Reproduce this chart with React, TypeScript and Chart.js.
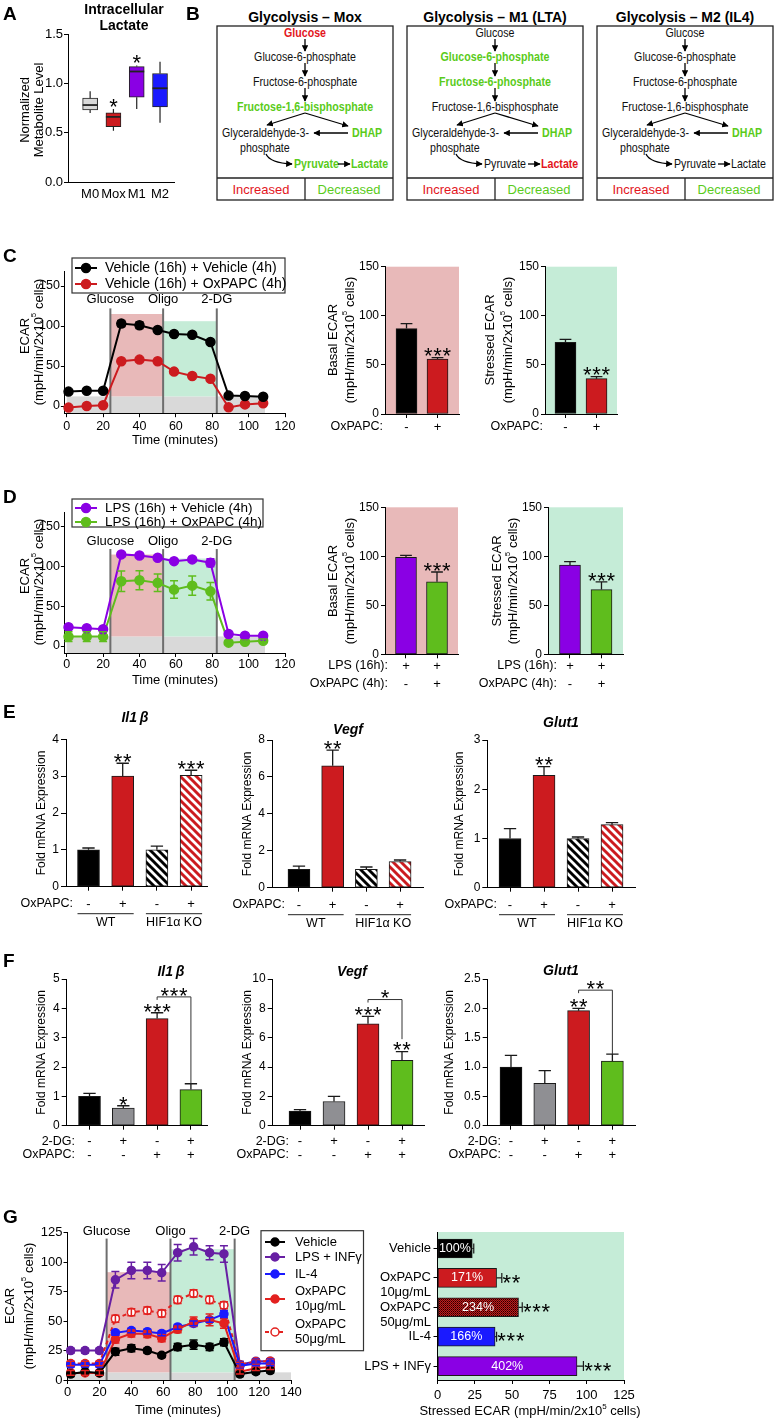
import React, { useEffect, useRef } from 'react';
import { Chart, registerables } from 'chart.js';

Chart.register(...registerables);

const SANS = '"Liberation Sans", Arial, Helvetica, sans-serif';

// ---------- colours ----------
const BLACK = '#000000';
const RED = '#cc1b1f';
const PURPLE = '#8a00e4';
const GREEN = '#5fbd1d';
const GRAY = '#8f8f93';
const LIGHTGRAY = '#d9d9d9';
const BLUE = '#1a1aff';
const PINK_BG = '#e8b9b9';
const MINT_BG = '#c5ecd7';
const SHADE = '#d9d9d9';
const LINE_RED = '#e3211f';
const DARK_PURPLE = '#671fa3';
const TXT_RED = '#e3161d';
const TXT_GREEN = '#5acb1a';

// ---------- Panel A : intracellular lactate ----------
const aGroups = ['M0', 'Mox', 'M1', 'M2'];
const aLow = [0.7, 0.52, 0.74, 0.6];
const aQ1 = [0.73, 0.56, 0.86, 0.76];
const aMedian = [0.78, 0.66, 1.12, 0.95];
const aQ3 = [0.85, 0.7, 1.17, 1.1];
const aHigh = [0.92, 0.74, 1.18, 1.22];
const aStars = [0, 1, 1, 0];
const aColors = [LIGHTGRAY, RED, PURPLE, BLUE];

// ---------- Panel B : glycolysis diagrams ----------
const bTitles = ['Glycolysis \u2013 Mox', 'Glycolysis \u2013 M1 (LTA)', 'Glycolysis \u2013 M2 (IL4)'];
const bMetabolites = ['Glucose', 'Glucose-6-phosphate', 'Fructose-6-phosphate', 'Fructose-1,6-bisphosphate', 'Glyceraldehyde-3-', 'DHAP', 'phosphate', 'Pyruvate', 'Lactate'];
// 1 = increased, -1 = decreased, 0 = unchanged
const bMox = [1, 0, 0, -1, 0, -1, 0, -1, -1];
const bM1 = [0, -1, -1, 0, 0, -1, 0, 0, 1];
const bM2 = [0, 0, 0, 0, 0, -1, 0, 0, 0];

// ---------- Panels C / D : Seahorse traces ----------
const timeCD = [1, 11, 20, 30, 40, 50, 59, 69, 79, 89, 98, 108];
const injectionNames = ['Glucose', 'Oligo', '2-DG'];
const injectionCD = [24, 53, 82.5];
const cVehVeh = [18, 19, 19, 103, 101, 95, 90, 89, 80, 13, 12.5, 11.5];
const cVehVehErr = [0, 0, 0, 4, 4, 0, 0, 0, 0, 0, 0, 0];
const cVehOx = [-2, 0, 1, 56, 58, 56, 43, 37.5, 34, -1.7, 2, 3.4];
const cVehOxErr = [0, 0, 0, 0, 0, 0, 0, 0, 0, 0, 0, 0];
const cShadeTop = [12, 115, 106];
const dLpsVeh = [23.7, 22.4, 21.1, 115.2, 113.9, 111, 106.7, 108.9, 104.7, 15.2, 13, 13];
const dLpsVehErr = [0, 0, 0, 2, 2, 2, 2, 2, 5, 0, 0, 0];
const dLpsOx = [11.8, 11.8, 11.8, 81.4, 82.7, 79.4, 70.9, 75.9, 68.7, 4.2, 5.4, 6.7];
const dLpsOxErr = [6, 6, 6, 13, 12, 11, 11, 12, 11, 2, 2, 2];
const dShadeTop = [12, 115, 110];

const oxLabels = ['-', '+'];
const cBasal = [87, 56];
const cBasalErr = [5, 1.5];
const cStressed = [73, 36];
const cStressedErr = [3, 2];
const cdStars = [0, 3];
const dLabels = [['+', '-'], ['+', '+']];
const dBasal = [99, 74];
const dBasalErr = [2, 10];
const dStressed = [91, 66];
const dStressedErr = [3.5, 8];

// ---------- Panel E ----------
const eLabels = ['-', '+', '-', '+'];
const eGenotypes = ['WT', 'HIF1\u03b1 KO'];
const eIl1b = [1.0, 3.0, 1.0, 3.02];
const eIl1bErr = [0.05, 0.35, 0.1, 0.14];
const eIl1bStars = [0, 2, 0, 3];
const eVegf = [1.0, 6.6, 1.0, 1.42];
const eVegfErr = [0.17, 0.85, 0.12, 0.08];
const eVegfStars = [0, 2, 0, 0];
const eGlut1 = [1.0, 2.28, 1.0, 1.28];
const eGlut1Err = [0.2, 0.18, 0.03, 0.04];
const eGlut1Stars = [0, 2, 0, 0];

// ---------- Panel F ----------
const fLabels = [['-', '-'], ['+', '-'], ['-', '+'], ['+', '+']];
const fIl1b = [1.0, 0.6, 3.65, 1.23];
const fIl1bErr = [0.1, 0.08, 0.2, 0.2];
const fIl1bStars = [0, 1, 3, 0];
const fVegf = [1.0, 1.65, 6.95, 4.45];
const fVegfErr = [0.1, 0.35, 0.5, 0.6];
const fVegfStars = [0, 0, 3, 2];
const fGlut1 = [1.0, 0.72, 1.96, 1.1];
const fGlut1Err = [0.2, 0.22, 0.04, 0.12];
const fGlut1Stars = [0, 0, 2, 0];

// ---------- Panel G ----------
const timeG = [2, 11, 20, 30, 40, 50, 59, 69, 79, 89, 98, 108, 118, 127];
const injectionG = [24.5, 64.5, 104.7];
const gShadeTop = [6.5, 91.5, 111];
const gVehicle = [5, 7, 6, 24, 27, 25, 21, 28, 30, 28, 32, 5, 7, 8];
const gVehicleErr = [2, 2, 2, 3, 3, 2, 2, 3, 4, 3, 3, 2, 2, 2];
const gLps = [25, 25, 25, 85, 93, 93, 91, 108, 113, 108, 107, 13, 16, 16];
const gLpsErr = [2, 2, 2, 7, 7, 7, 7, 7, 7, 6, 7, 3, 2, 2];
const gIl4 = [13, 13, 13, 40, 42, 41, 39.5, 45, 48, 51, 56, 12, 14, 14];
const gIl4Err = [2, 2, 2, 2, 2, 2, 2, 2, 2, 2, 3, 2, 2, 2];
const gOx10 = [6, 6, 6, 34.5, 39.5, 39, 35.5, 43, 49.5, 51, 48, 7, 10, 11];
const gOx10Err = [2, 2, 2, 3, 3, 3, 3, 3, 4, 5, 4, 2, 2, 2];
const gOx50 = [14, 14, 14, 52, 57.5, 59, 56.5, 68, 73.5, 68, 63.5, 13, 15.5, 16];
const gOx50Err = [2, 2, 2, 3, 3, 3, 3, 3, 3, 3, 3, 2, 2, 2];
const gConditions = ['Vehicle', 'OxPAPC', 'OxPAPC', 'IL-4', 'LPS + INF\u03b3'];
const gDoses = ['', '10\u03bcg/mL', '50\u03bcg/mL', '', ''];
const gStressed = [23.3, 39.6, 54.3, 38.6, 93.5];
const gStressedErr = [1, 3.5, 2.5, 1, 4.3];
const gPercent = ['100%', '171%', '234%', '166%', '402%'];
const gStars = [0, 2, 3, 3, 3];

// ---------- layout ----------
type Box = { x: number; y: number; w: number; h: number };
type Area = { l: number; t: number; r: number; b: number };
type Draw = { ctx: CanvasRenderingContext2D; X: (v: number) => number; Y: (v: number) => number; area: Area };
type Spec = { key: string; area: Area; type: string; indexAxis?: string; datasets: any[]; x: any; y: any; bg?: (d: Draw) => void; over?: (d: Draw) => void; top?: (d: Draw) => void };

const BOX: Record<string, Box> = {
  A: { x: 0, y: 0, w: 205, h: 215 },
  CL: { x: 0, y: 245, w: 300, h: 205 },
  CB1: { x: 300, y: 255, w: 165, h: 185 },
  CB2: { x: 465, y: 255, w: 165, h: 185 },
  DL: { x: 0, y: 495, w: 300, h: 195 },
  DB1: { x: 300, y: 495, w: 165, h: 200 },
  DB2: { x: 465, y: 495, w: 165, h: 200 },
  E1: { x: 0, y: 700, w: 215, h: 235 },
  E2: { x: 215, y: 700, w: 215, h: 235 },
  E3: { x: 430, y: 700, w: 215, h: 235 },
  F1: { x: 0, y: 950, w: 215, h: 215 },
  F2: { x: 215, y: 950, w: 215, h: 215 },
  F3: { x: 430, y: 950, w: 215, h: 215 },
  GL: { x: 0, y: 1215, w: 380, h: 206 },
  GB: { x: 355, y: 1215, w: 419, h: 206 },
};

const LETTERS: [string, number, number][] = [['A', 3, 14], ['B', 186, 14], ['C', 3, 256], ['D', 3, 497], ['E', 3, 712], ['F', 3, 961], ['G', 3, 1217]];

// ---------- drawing helpers ----------
function txt(ctx: CanvasRenderingContext2D, s: string, x: number, y: number, o: any = {}) {
  ctx.save();
  ctx.font = `${o.italic ? 'italic ' : ''}${o.bold ? 'bold ' : ''}${o.size ?? 12}px ${o.fam ?? SANS}`;
  ctx.fillStyle = o.color ?? '#000';
  ctx.textAlign = o.align ?? 'center';
  ctx.textBaseline = 'middle';
  ctx.translate(x, y);
  if (o.rot) ctx.rotate(-Math.PI / 2);
  ctx.fillText(s, 0, 0);
  ctx.restore();
}

const UNITS: [string, boolean][] = [['(mpH/min/2x10', false], ['5', true], [' cells)', false]];
const GLABEL: [string, boolean][] = [['Stressed ECAR (mpH/min/2x10', false], ['5', true], [' cells)', false]];

function rich(ctx: CanvasRenderingContext2D, segs: [string, boolean][], x: number, y: number, o: any = {}) {
  const size = o.size ?? 12;
  ctx.save();
  const fN = `${size}px ${SANS}`;
  const fS = `${Math.round(size * 0.65)}px ${SANS}`;
  let total = 0;
  segs.forEach(([s, sup]) => { ctx.font = sup ? fS : fN; total += ctx.measureText(s).width; });
  ctx.translate(x, y);
  if (o.rot) ctx.rotate(-Math.PI / 2);
  let cx = -total / 2;
  ctx.fillStyle = '#000';
  ctx.textAlign = 'left';
  ctx.textBaseline = 'middle';
  segs.forEach(([s, sup]) => { ctx.font = sup ? fS : fN; ctx.fillText(s, cx, sup ? -size * 0.38 : 0); cx += ctx.measureText(s).width; });
  ctx.restore();
}

function drawStars(ctx: CanvasRenderingContext2D, n: number, cx: number, cy: number, size = 22, gap = 9.3) {
  ctx.save();
  ctx.fillStyle = '#000';
  ctx.font = `${size}px ${SANS}`;
  ctx.textAlign = 'center';
  ctx.textBaseline = 'alphabetic';
  for (let i = 0; i < n; i++) ctx.fillText('*', cx + (i - (n - 1) / 2) * gap, cy + size * 0.58);
  ctx.restore();
}

function errBoth(d: Draw, xs: number[], vals: number[], errs: number[], color: string, cap: number) {
  const { ctx } = d;
  ctx.save();
  ctx.strokeStyle = color;
  ctx.lineWidth = 1.5;
  vals.forEach((v, i) => {
    const e = errs[i];
    if (!e) return;
    const x = d.X(xs[i]);
    const y0 = d.Y(v - e);
    const y1 = d.Y(v + e);
    ctx.beginPath();
    ctx.moveTo(x, y0); ctx.lineTo(x, y1);
    ctx.moveTo(x - cap, y0); ctx.lineTo(x + cap, y0);
    ctx.moveTo(x - cap, y1); ctx.lineTo(x + cap, y1);
    ctx.stroke();
  });
  ctx.restore();
}

function legendBox(ctx: CanvasRenderingContext2D, o: any) {
  ctx.save();
  ctx.fillStyle = '#fff';
  ctx.fillRect(o.x, o.y, o.w, o.h);
  ctx.strokeStyle = '#333';
  ctx.lineWidth = 1.2;
  ctx.strokeRect(o.x, o.y, o.w, o.h);
  o.rows.forEach((r: any) => {
    ctx.strokeStyle = r.color;
    ctx.lineWidth = 2;
    ctx.setLineDash(r.dash ?? []);
    ctx.beginPath(); ctx.moveTo(o.x0, r.y); ctx.lineTo(o.x1, r.y); ctx.stroke();
    ctx.setLineDash([]);
    ctx.beginPath(); ctx.arc((o.x0 + o.x1) / 2, r.y, o.r, 0, Math.PI * 2);
    ctx.fillStyle = r.fill ?? r.color; ctx.fill(); ctx.lineWidth = 1.5; ctx.stroke();
    const n = r.lines.length;
    r.lines.forEach((s: string, i: number) => txt(ctx, s, o.tx, r.y + (i - (n - 1) / 2) * o.lh, { size: o.size, align: 'left' }));
  });
  ctx.restore();
}

function stripes(color: string) {
  const p = 8;
  const c = document.createElement('canvas');
  c.width = p; c.height = p;
  const g = c.getContext('2d')!;
  g.fillStyle = '#fff'; g.fillRect(0, 0, p, p);
  g.strokeStyle = color; g.lineWidth = 2.9;
  g.beginPath();
  for (let k = -1; k <= 1; k++) { g.moveTo(k * p - 1, -1); g.lineTo(k * p + p + 1, p + 1); }
  g.stroke();
  return g.createPattern(c, 'repeat');
}

function checker() {
  const c = document.createElement('canvas');
  c.width = 2; c.height = 2;
  const g = c.getContext('2d')!;
  g.fillStyle = '#c41c1c'; g.fillRect(0, 0, 2, 2);
  g.fillStyle = '#200000'; g.fillRect(0, 0, 1, 1);
  g.fillStyle = '#5a0a0a'; g.fillRect(1, 1, 1, 1);
  return g.createPattern(c, 'repeat');
}

// ---------- scale options ----------
function axisOpts(o: any, pos: string, thick: number) {
  const tl = o.tickLen ?? 4;
  return {
    type: 'linear', position: pos, min: o.min, max: o.max, reverse: !!o.reverse, bounds: 'data', offset: false,
    afterBuildTicks: (s: any) => { s.ticks = o.ticks.map((value: number) => ({ value })); },
    afterFit: (s: any) => {
      if (pos === 'bottom') s.height = thick; else s.width = thick;
      s.paddingLeft = 0; s.paddingRight = 0; s.paddingTop = 0; s.paddingBottom = 0;
    },
    grid: { display: true, drawOnChartArea: false, drawTicks: tl > 0, tickLength: tl, tickWidth: 1, tickColor: '#000', color: '#000', offset: false, lineWidth: 1 },
    border: { display: o.border !== false, color: '#000', width: 1 },
    ticks: {
      display: !o.hideLabels, autoSkip: false, maxRotation: 0, minRotation: 0, padding: o.pad ?? 2, color: '#000',
      font: { family: o.fam ?? SANS, size: o.size ?? 12, lineHeight: o.lh ?? 1.2 },
      callback: (v: any) => (o.fmt ? o.fmt(v) : String(v)),
    },
  };
}

function build(canvas: HTMLCanvasElement, spec: Spec) {
  const box = BOX[spec.key];
  const a = spec.area;
  const yThick = a.l - box.x;
  const xThick = box.y + box.h - a.b;
  const hook = (fn?: (d: Draw) => void) => (c: any) => {
    if (!fn) return;
    const ctx = c.ctx as CanvasRenderingContext2D;
    ctx.save();
    ctx.translate(-box.x, -box.y);
    fn({
      ctx,
      X: (v: number) => c.scales.x.getPixelForValue(v) + box.x,
      Y: (v: number) => c.scales.y.getPixelForValue(v) + box.y,
      area: { l: c.chartArea.left + box.x, t: c.chartArea.top + box.y, r: c.chartArea.right + box.x, b: c.chartArea.bottom + box.y },
    });
    ctx.restore();
  };
  return new Chart(canvas, {
    type: spec.type,
    data: { datasets: spec.datasets },
    options: {
      responsive: false, animation: false, devicePixelRatio: 1, events: [],
      indexAxis: spec.indexAxis ?? 'x',
      layout: { padding: { left: 0, top: a.t - box.y, right: box.x + box.w - a.r, bottom: 0 } },
      plugins: { legend: { display: false }, tooltip: { enabled: false }, title: { display: false } },
      scales: { x: axisOpts(spec.x, 'bottom', xThick), y: axisOpts(spec.y, 'left', yThick) },
    },
    plugins: [{ id: 'deco' + spec.key, beforeDraw: hook(spec.bg), afterDatasetsDraw: hook(spec.over), afterDraw: hook(spec.top) }],
  } as any);
}

// ---------- spec builders ----------
function seahorse(o: any): Spec {
  return {
    key: o.key, area: o.area, type: 'line',
    datasets: o.series.map((s: any) => ({
      data: o.time.map((t: number, i: number) => ({ x: t, y: s.values[i] })),
      borderColor: s.color, backgroundColor: s.color, borderWidth: 2, borderDash: s.dash ?? [],
      pointRadius: o.r, pointBackgroundColor: s.fill ?? s.color, pointBorderColor: s.color, pointBorderWidth: 1.5,
      tension: 0, clip: false,
    })),
    x: { min: o.xmin, max: o.xmax, ticks: o.xticks, size: o.tsize, pad: o.xpad },
    y: { min: o.ymin, max: o.ymax, ticks: o.yticks, size: o.tsize, pad: 1 },
    bg: (d) => {
      const { ctx } = d;
      const [base, basal, stressed] = o.shade;
      const [g, ol, dg] = o.inject;
      ctx.fillStyle = SHADE;
      ctx.fillRect(d.X(0), d.Y(base), d.X(o.shadeEnd) - d.X(0), d.area.b - d.Y(base));
      ctx.fillStyle = PINK_BG;
      ctx.fillRect(d.X(g), d.Y(basal), d.X(ol) - d.X(g), d.Y(base) - d.Y(basal));
      ctx.fillStyle = MINT_BG;
      ctx.fillRect(d.X(ol), d.Y(stressed), d.X(dg) - d.X(ol), d.Y(base) - d.Y(stressed));
      ctx.strokeStyle = '#6e6e6e';
      ctx.lineWidth = 2;
      o.inject.forEach((t: number) => { ctx.beginPath(); ctx.moveTo(d.X(t), d.area.b); ctx.lineTo(d.X(t), d.Y(o.lineTop)); ctx.stroke(); });
    },
    over: (d) => { o.series.forEach((s: any) => errBoth(d, o.time, s.values, s.errs, s.color, o.cap)); },
    top: (d) => {
      injectionNames.forEach((n, i) => txt(d.ctx, n, d.X(o.inject[i]), d.Y(o.labelAt), { size: o.lsize }));
      o.extra(d);
    },
  };
}

function bars(o: any): Spec {
  return {
    key: o.key, area: o.area, type: 'bar',
    datasets: [{ data: o.values.map((v: number, i: number) => ({ x: i, y: v })), backgroundColor: o.colors, borderColor: '#1a1a1a', borderWidth: 1, borderSkipped: false, barThickness: o.thick }],
    x: { min: o.xmin, max: o.xmax, ticks: o.values.map((_: number, i: number) => i), fmt: (v: number) => o.labels[v], size: o.xsize ?? 13, pad: o.xpad ?? 2, lh: o.xlh ?? 1.2 },
    y: { min: 0, max: o.ymax, ticks: o.yticks, fmt: o.yfmt, size: o.ysize ?? 12, pad: o.ypad ?? 2, tickLen: o.ytick ?? 4 },
    bg: o.bg ? (d) => { d.ctx.fillStyle = o.bg; d.ctx.fillRect(d.area.l, d.area.t, d.area.r - d.area.l, d.area.b - d.area.t); } : undefined,
    over: (d) => {
      const { ctx } = d;
      ctx.save();
      ctx.strokeStyle = '#1a1a1a';
      ctx.lineWidth = 1.3;
      const cap = o.thick * 0.28;
      o.values.forEach((v: number, i: number) => {
        const e = o.errs[i];
        if (!e) return;
        const x = d.X(i);
        const y1 = d.Y(v + e);
        ctx.beginPath(); ctx.moveTo(x, d.Y(v)); ctx.lineTo(x, y1); ctx.moveTo(x - cap, y1); ctx.lineTo(x + cap, y1); ctx.stroke();
      });
      ctx.restore();
      o.values.forEach((v: number, i: number) => { if (o.stars[i]) drawStars(ctx, o.stars[i], d.X(i), d.Y(v + o.errs[i]) - 7); });
      (o.brackets ?? []).forEach((br: any) => {
        const xa = d.X(br.a), xb = d.X(br.b), yb = d.Y(br.at);
        ctx.save();
        ctx.strokeStyle = '#333';
        ctx.lineWidth = 1;
        ctx.beginPath(); ctx.moveTo(xa, yb + 3); ctx.lineTo(xa, yb); ctx.lineTo(xb, yb);
        ctx.lineTo(xb, d.Y(br.drop ?? o.values[br.b] + o.errs[br.b]));
        ctx.stroke();
        ctx.restore();
        drawStars(ctx, br.stars, (xa + xb) / 2, yb - 7);
      });
    },
    top: o.top,
  };
}

function yTitles(ctx: CanvasRenderingContext2D, title: string, x1: number, x2: number, yc: number, size = 13) {
  txt(ctx, title, x1, yc, { size, rot: true });
  rich(ctx, UNITS, x2, yc, { size, rot: true });
}

function eDecor(titleText: string, tx: number, ty: number, yx: number, labelRight: number) {
  return (d: Draw) => {
    const { ctx } = d;
    txt(ctx, titleText, tx, ty, { size: 14, bold: true, italic: true });
    txt(ctx, 'Fold mRNA Expression', yx, (d.area.t + d.area.b) / 2, { size: 12, rot: true });
    txt(ctx, 'OxPAPC:', labelRight, d.area.b + 17, { size: 12.5, align: 'right' });
    eGenotypes.forEach((g, k) => {
      const x0 = d.X(2 * k) - 11;
      const x1 = d.X(2 * k + 1) + 11;
      ctx.save();
      ctx.strokeStyle = '#222'; ctx.lineWidth = 1;
      ctx.beginPath(); ctx.moveTo(x0, d.area.b + 27); ctx.lineTo(x1, d.area.b + 27); ctx.stroke();
      ctx.restore();
      txt(ctx, g, (x0 + x1) / 2, d.area.b + 36, { size: 12.5 });
    });
  };
}

function fDecor(titleText: string, tx: number, ty: number, yx: number, labelRight: number) {
  return (d: Draw) => {
    const { ctx } = d;
    txt(ctx, titleText, tx, ty, { size: 14, bold: true, italic: true });
    txt(ctx, 'Fold mRNA Expression', yx, (d.area.t + d.area.b) / 2, { size: 12, rot: true });
    txt(ctx, '2-DG:', labelRight, 1141.5, { size: 12.5, align: 'right' });
    txt(ctx, 'OxPAPC:', labelRight, 1155, { size: 12.5, align: 'right' });
  };
}

function makeSpecs(): Spec[] {
  const stripeBlack = stripes('#000');
  const stripeRed = stripes(RED);
  const hatch = checker();
  const eColors = [BLACK, RED, stripeBlack, stripeRed];
  const fColors = [BLACK, GRAY, RED, GREEN];
  const specs: Spec[] = [];

  // ----- A -----
  specs.push({
    key: 'A', area: { l: 68, t: 34, r: 174, b: 182 }, type: 'bar',
    datasets: [{ data: aGroups.map((_, i) => ({ x: i, y: [aQ1[i], aQ3[i]] })), backgroundColor: aColors, borderColor: '#222', borderWidth: 1, borderSkipped: false, barThickness: 15 }],
    x: { min: -0.95, max: 3.6, ticks: [0, 1, 2, 3], fmt: (v: number) => aGroups[v], size: 13, pad: 5, tickLen: 0 },
    y: { min: 0, max: 1.5, ticks: [0, 0.5, 1, 1.5], fmt: (v: number) => v.toFixed(1), size: 13, pad: 1 },
    over: (d) => {
      const { ctx } = d;
      ctx.save();
      ctx.strokeStyle = '#222';
      aGroups.forEach((_, i) => {
        const x = d.X(i);
        ctx.lineWidth = 1.2;
        ctx.beginPath();
        ctx.moveTo(x, d.Y(aQ3[i])); ctx.lineTo(x, d.Y(aHigh[i]));
        ctx.moveTo(x, d.Y(aQ1[i])); ctx.lineTo(x, d.Y(aLow[i]));
        ctx.stroke();
        ctx.lineWidth = 1.8;
        ctx.beginPath(); ctx.moveTo(x - 7.5, d.Y(aMedian[i])); ctx.lineTo(x + 7.5, d.Y(aMedian[i])); ctx.stroke();
        if (aStars[i]) drawStars(ctx, aStars[i], x, d.Y(aHigh[i]) - 8);
      });
      ctx.restore();
    },
    top: (d) => {
      txt(d.ctx, 'Intracellular', 124, 10, { size: 14, bold: true });
      txt(d.ctx, 'Lactate', 124, 26, { size: 14, bold: true });
      txt(d.ctx, 'Normalized', 25, 110, { size: 13, rot: true });
      txt(d.ctx, 'Metabolite Level', 39, 110, { size: 13, rot: true });
    },
  });

  // ----- C line -----
  specs.push(seahorse({
    key: 'CL', area: { l: 64.9, t: 271.6, r: 285, b: 413.2 }, time: timeCD,
    xmin: -1, xmax: 120, xticks: [0, 20, 40, 60, 80, 100, 120], ymin: -9, ymax: 168, yticks: [0, 50, 100, 150],
    tsize: 12.5, xpad: 2, r: 4.5, cap: 4,
    series: [{ values: cVehVeh, errs: cVehVehErr, color: BLACK }, { values: cVehOx, errs: cVehOxErr, color: RED }],
    inject: injectionCD, shade: cShadeTop, shadeEnd: 109, lineTop: 122, labelAt: 133, lsize: 13,
    extra: (d: Draw) => {
      legendBox(d.ctx, { x: 72, y: 258, w: 213, h: 35, x0: 75, x1: 97, r: 4.5, tx: 105, size: 14, lh: 15, rows: [
        { y: 268, color: BLACK, lines: ['Vehicle (16h) + Vehicle (4h)'] },
        { y: 284, color: RED, lines: ['Vehicle (16h) + OxPAPC (4h)'] },
      ] });
      txt(d.ctx, 'ECAR', 25, 336, { size: 13, rot: true });
      rich(d.ctx, UNITS, 39, 342, { size: 13, rot: true });
      txt(d.ctx, 'Time (minutes)', 175, 440, { size: 13 });
    },
  }));

  // ----- C bars -----
  specs.push(bars({
    key: 'CB1', area: { l: 385, t: 266.7, r: 459, b: 414 }, values: cBasal, errs: cBasalErr, colors: [BLACK, RED], thick: 21,
    xmin: -0.694, xmax: 1.693, labels: oxLabels, xpad: 1.2, ymax: 150, yticks: [0, 50, 100, 150], stars: cdStars, bg: PINK_BG,
    top: (d: Draw) => { txt(d.ctx, 'OxPAPC:', 383, 427, { size: 12.5, align: 'right' }); yTitles(d.ctx, 'Basal ECAR', 333, 350, 340); },
  }));
  specs.push(bars({
    key: 'CB2', area: { l: 545, t: 266.7, r: 617, b: 414 }, values: cStressed, errs: cStressedErr, colors: [BLACK, RED], thick: 21,
    xmin: -0.66, xmax: 1.66, labels: oxLabels, xpad: 1.2, ymax: 150, yticks: [0, 50, 100, 150], stars: cdStars, bg: MINT_BG,
    top: (d: Draw) => { txt(d.ctx, 'OxPAPC:', 543, 427, { size: 12.5, align: 'right' }); yTitles(d.ctx, 'Stressed ECAR', 490, 508, 340); },
  }));

  // ----- D line -----
  specs.push(seahorse({
    key: 'DL', area: { l: 64.9, t: 512.4, r: 285, b: 653 }, time: timeCD,
    xmin: -1, xmax: 120, xticks: [0, 20, 40, 60, 80, 100, 120], ymin: -8.8, ymax: 168, yticks: [0, 50, 100, 150],
    tsize: 12.5, xpad: 0.5, r: 4.5, cap: 4,
    series: [{ values: dLpsVeh, errs: dLpsVehErr, color: PURPLE }, { values: dLpsOx, errs: dLpsOxErr, color: GREEN }],
    inject: injectionCD, shade: dShadeTop, shadeEnd: 109, lineTop: 122, labelAt: 131, lsize: 13,
    extra: (d: Draw) => {
      legendBox(d.ctx, { x: 72, y: 499, w: 191, h: 28, x0: 75, x1: 97, r: 4.5, tx: 105, size: 13.5, lh: 15, rows: [
        { y: 508, color: PURPLE, lines: ['LPS (16h) + Vehicle (4h)'] },
        { y: 522, color: GREEN, lines: ['LPS (16h) + OxPAPC (4h)'] },
      ] });
      txt(d.ctx, 'ECAR', 25, 576, { size: 13, rot: true });
      rich(d.ctx, UNITS, 39, 582, { size: 13, rot: true });
      txt(d.ctx, 'Time (minutes)', 175, 680, { size: 13 });
    },
  }));

  // ----- D bars -----
  specs.push(bars({
    key: 'DB1', area: { l: 385, t: 507.3, r: 458, b: 654.3 }, values: dBasal, errs: dBasalErr, colors: [PURPLE, GREEN], thick: 21,
    xmin: -0.677, xmax: 1.677, labels: dLabels, xpad: -1, xlh: 18 / 13, ymax: 150, yticks: [0, 50, 100, 150], stars: cdStars, bg: PINK_BG,
    top: (d: Draw) => {
      txt(d.ctx, 'LPS (16h):', 388, 666, { size: 12.5, align: 'right' });
      txt(d.ctx, 'OxPAPC (4h):', 388, 684, { size: 12.5, align: 'right' });
      yTitles(d.ctx, 'Basal ECAR', 333, 350, 581);
    },
  }));
  specs.push(bars({
    key: 'DB2', area: { l: 548, t: 507.3, r: 623, b: 654.3 }, values: dStressed, errs: dStressedErr, colors: [PURPLE, GREEN], thick: 21,
    xmin: -0.698, xmax: 1.683, labels: dLabels, xpad: -1, xlh: 18 / 13, ymax: 150, yticks: [0, 50, 100, 150], stars: cdStars, bg: MINT_BG,
    top: (d: Draw) => {
      txt(d.ctx, 'LPS (16h):', 557, 666, { size: 12.5, align: 'right' });
      txt(d.ctx, 'OxPAPC (4h):', 557, 684, { size: 12.5, align: 'right' });
      yTitles(d.ctx, 'Stressed ECAR', 497, 513, 581);
    },
  }));

  // ----- E -----
  specs.push(bars({
    key: 'E1', area: { l: 66, t: 739.3, r: 207, b: 886.7 }, values: eIl1b, errs: eIl1bErr, colors: eColors, thick: 22,
    xmin: -0.658, xmax: 3.465, labels: eLabels, xpad: 5.5, ymax: 4, yticks: [0, 1, 2, 3, 4], ytick: 5, stars: eIl1bStars,
    top: eDecor('Il1\u2009\u03b2', 135, 718, 42, 73),
  }));
  specs.push(bars({
    key: 'E2', area: { l: 272, t: 740, r: 423, b: 887.7 }, values: eVegf, errs: eVegfErr, colors: eColors, thick: 22,
    xmin: -0.8, xmax: 3.68, labels: eLabels, xpad: 5.5, ymax: 8, yticks: [0, 2, 4, 6, 8], ytick: 5, stars: eVegfStars,
    top: eDecor('Vegf', 348, 730, 248, 285),
  }));
  specs.push(bars({
    key: 'E3', area: { l: 487.3, t: 740, r: 635, b: 887.7 }, values: eGlut1, errs: eGlut1Err, colors: eColors, thick: 22,
    xmin: -0.668, xmax: 3.676, labels: eLabels, xpad: 5.5, ymax: 3, yticks: [0, 1, 2, 3], ytick: 5, stars: eGlut1Stars,
    top: eDecor('Glut1', 561, 723, 460, 497),
  }));

  // ----- F -----
  specs.push(bars({
    key: 'F1', area: { l: 66.7, t: 979, r: 207, b: 1125.7 }, values: fIl1b, errs: fIl1bErr, colors: fColors, thick: 22,
    xmin: -0.675, xmax: 3.476, labels: fLabels, xpad: 5, xlh: 13.5 / 13, ymax: 5, yticks: [0, 1, 2, 3, 4, 5], ytick: 5, stars: fIl1bStars,
    brackets: [{ a: 2, b: 3, at: 4.39, stars: 3 }],
    top: fDecor('Il1\u2009\u03b2', 171, 972, 42, 75),
  }));
  specs.push(bars({
    key: 'F2', area: { l: 272.7, t: 979, r: 424, b: 1125.7 }, values: fVegf, errs: fVegfErr, colors: fColors, thick: 22,
    xmin: -0.803, xmax: 3.647, labels: fLabels, xpad: 5, xlh: 13.5 / 13, ymax: 10, yticks: [0, 2, 4, 6, 8, 10], ytick: 5, stars: fVegfStars,
    brackets: [{ a: 2, b: 3, at: 8.6, drop: 5.9, stars: 1 }],
    top: fDecor('Vegf', 352, 972, 248, 289),
  }));
  specs.push(bars({
    key: 'F3', area: { l: 487.7, t: 979, r: 635, b: 1125.7 }, values: fGlut1, errs: fGlut1Err, colors: fColors, thick: 22,
    xmin: -0.689, xmax: 3.669, labels: fLabels, xpad: 5, xlh: 13.5 / 13, ymax: 2.5, yticks: [0, 0.5, 1, 1.5, 2, 2.5], yfmt: (v: number) => v.toFixed(1), ytick: 5, stars: fGlut1Stars,
    brackets: [{ a: 2, b: 3, at: 2.31, stars: 2 }],
    top: fDecor('Glut1', 561, 971, 450, 501),
  }));

  // ----- G line -----
  specs.push(seahorse({
    key: 'GL', area: { l: 67.5, t: 1232.7, r: 291, b: 1380 }, time: timeG,
    xmin: 0, xmax: 140, xticks: [0, 20, 40, 60, 80, 100, 120, 140], ymin: 0, ymax: 125, yticks: [0, 25, 50, 75, 100, 125],
    tsize: 13, xpad: 0.5, r: 4, cap: 4,
    series: [
      { values: gVehicle, errs: gVehicleErr, color: BLACK },
      { values: gOx10, errs: gOx10Err, color: LINE_RED },
      { values: gIl4, errs: gIl4Err, color: BLUE },
      { values: gOx50, errs: gOx50Err, color: LINE_RED, fill: '#ffffff', dash: [4, 3] },
      { values: gLps, errs: gLpsErr, color: DARK_PURPLE },
    ],
    inject: injectionG, shade: gShadeTop, shadeEnd: 140, lineTop: 120, labelAt: 126.3, lsize: 13,
    extra: (d: Draw) => {
      legendBox(d.ctx, { x: 261, y: 1230.7, w: 102.5, h: 120, x0: 265, x1: 285, r: 4, tx: 295, size: 13, lh: 15, rows: [
        { y: 1242, color: BLACK, lines: ['Vehicle'] },
        { y: 1257, color: DARK_PURPLE, lines: ['LPS + INF\u03b3'] },
        { y: 1274, color: BLUE, lines: ['IL-4'] },
        { y: 1299, color: LINE_RED, lines: ['OxPAPC', '10\u03bcg/mL'] },
        { y: 1332, color: LINE_RED, fill: '#ffffff', dash: [4, 3], lines: ['OxPAPC', '50\u03bcg/mL'] },
      ] });
      txt(d.ctx, 'ECAR', 10, 1306, { size: 13, rot: true });
      rich(d.ctx, UNITS, 29, 1306, { size: 13, rot: true });
      txt(d.ctx, 'Time (minutes)', 178, 1410, { size: 13 });
    },
  }));

  // ----- G bars -----
  specs.push({
    key: 'GB', area: { l: 437.5, t: 1232, r: 624, b: 1380 }, type: 'bar', indexAxis: 'y',
    datasets: [{ data: gStressed.map((v, i) => ({ x: v, y: i })), backgroundColor: [BLACK, RED, hatch, BLUE, PURPLE], borderColor: '#1a1a1a', borderWidth: 1, borderSkipped: false, barThickness: 19 }],
    x: { min: 0, max: 125, ticks: [0, 25, 50, 75, 100, 125], size: 13, pad: 3.5 },
    y: { min: -0.561, max: 4.473, reverse: true, ticks: [0, 1, 2, 3, 4], fmt: (v: number) => gConditions[v], size: 13, pad: 2.5 },
    bg: (d) => { d.ctx.fillStyle = MINT_BG; d.ctx.fillRect(d.area.l, d.area.t, d.area.r - d.area.l, d.area.b - d.area.t); },
    over: (d) => {
      const { ctx } = d;
      ctx.save();
      ctx.strokeStyle = '#1a1a1a';
      ctx.lineWidth = 1.2;
      gStressed.forEach((v, i) => {
        const y = d.Y(i);
        const x1 = d.X(v + gStressedErr[i]);
        ctx.beginPath(); ctx.moveTo(d.X(v), y); ctx.lineTo(x1, y); ctx.moveTo(x1, y - 5); ctx.lineTo(x1, y + 5); ctx.stroke();
        txt(ctx, gPercent[i], (d.X(0) + d.X(v)) / 2, y, { size: 12.5, color: '#ffffff' });
        if (gStars[i]) drawStars(ctx, gStars[i], x1 + 5 + (gStars[i] - 1) * 4.65, y - 1);
      });
      ctx.restore();
    },
    top: (d) => {
      gDoses.forEach((s, i) => { if (s) txt(d.ctx, s, 431, d.Y(i) + 15, { size: 13, align: 'right' }); });
      rich(d.ctx, GLABEL, 530, 1411.5, { size: 13 });
    },
  });

  return specs;
}

// ---------- Panel B (diagram) ----------
const bLefts = [217, 407, 597];
const bLayout: [number | null, number, string][] = [
  [null, 33, 'middle'], [null, 57, 'middle'], [null, 82, 'middle'], [null, 107, 'middle'],
  [5, 133, 'start'], [135, 133, 'start'], [23, 148, 'start'], [77, 164, 'start'], [134, 164, 'start'],
];

function PanelB() {
  const W = 176, T = 26, BOT = 200, DIV = 178;
  const states = [bMox, bM1, bM2];
  return (
    <svg width={774} height={215} style={{ position: 'absolute', left: 0, top: 0 }}>
      <defs>
        <marker id="bArrow" viewBox="0 0 10 10" refX="9" refY="5" markerWidth="5" markerHeight="5" orient="auto">
          <path d="M0,0 L10,5 L0,10 z" fill="#000" />
        </marker>
      </defs>
      {bLefts.map((L, k) => {
        const cx = L + W / 2;
        const arrows = [
          [cx, 39, cx, 51], [cx, 63, cx, 76], [cx, 88, cx, 101], [cx, 113, L + 50, 125], [cx, 113, L + 131, 126],
          [L + 131, 133, L + 97, 133], [L + 121, 164, L + 133, 164],
        ];
        return (
          <g key={k}>
            <text x={cx} y={17} textAnchor="middle" dominantBaseline="central" fontFamily={SANS} fontWeight="bold" fontSize={14}>{bTitles[k]}</text>
            <rect x={L} y={T} width={W} height={BOT - T} fill="none" stroke="#222" strokeWidth={1.3} />
            <line x1={L} x2={L + W} y1={DIV} y2={DIV} stroke="#222" strokeWidth={1.3} />
            <line x1={cx} x2={cx} y1={DIV} y2={BOT} stroke="#222" strokeWidth={1.3} />
            <text x={L + W / 4} y={(DIV + BOT) / 2} textAnchor="middle" dominantBaseline="central" fontFamily={SANS} fontSize={13} fill={TXT_RED}>Increased</text>
            <text x={L + (3 * W) / 4} y={(DIV + BOT) / 2} textAnchor="middle" dominantBaseline="central" fontFamily={SANS} fontSize={13} fill={TXT_GREEN}>Decreased</text>
            {bMetabolites.map((m, i) => {
              const [dx, y, anchor] = bLayout[i];
              const s = states[k][i];
              const x = dx === null ? cx : L + dx;
              return (
                <text key={i} transform={`translate(${x},${y}) scale(0.82,1)`} textAnchor={anchor} dominantBaseline="central" fontFamily={SANS} fontSize={13}
                  fontWeight={s ? 'bold' : 'normal'} fill={s > 0 ? TXT_RED : s < 0 ? TXT_GREEN : '#111'}>{m}</text>
              );
            })}
            {arrows.map(([x1, y1, x2, y2], i) => (
              <line key={'a' + i} x1={x1} y1={y1} x2={x2} y2={y2} stroke="#000" strokeWidth={1.3} markerEnd="url(#bArrow)" />
            ))}
            <path d={`M${L + 49},154 Q${L + 53},163 ${L + 75},164`} fill="none" stroke="#000" strokeWidth={1.3} markerEnd="url(#bArrow)" />
          </g>
        );
      })}
    </svg>
  );
}

const KEYS = Object.keys(BOX);

export default function App() {
  const refs = useRef<Record<string, HTMLCanvasElement | null>>({});
  useEffect(() => {
    const specs = makeSpecs();
    const charts = specs.map((s) => build(refs.current[s.key] as HTMLCanvasElement, s));
    return () => charts.forEach((c) => c.destroy());
  }, []);
  return (
    <div style={{ position: 'absolute', left: 0, top: 0, width: 774, height: 1421, background: '#fff', overflow: 'hidden' }}>
      <PanelB />
      {KEYS.map((k) => (
        <canvas key={k} ref={(el) => { refs.current[k] = el; }} width={BOX[k].w} height={BOX[k].h}
          style={{ position: 'absolute', left: BOX[k].x, top: BOX[k].y, width: BOX[k].w, height: BOX[k].h }} />
      ))}
      {LETTERS.map(([l, x, y]) => (
        <div key={l} style={{ position: 'absolute', left: x, top: y - 11, font: `bold 19px ${SANS}`, lineHeight: '22px', color: '#000' }}>{l}</div>
      ))}
    </div>
  );
}
